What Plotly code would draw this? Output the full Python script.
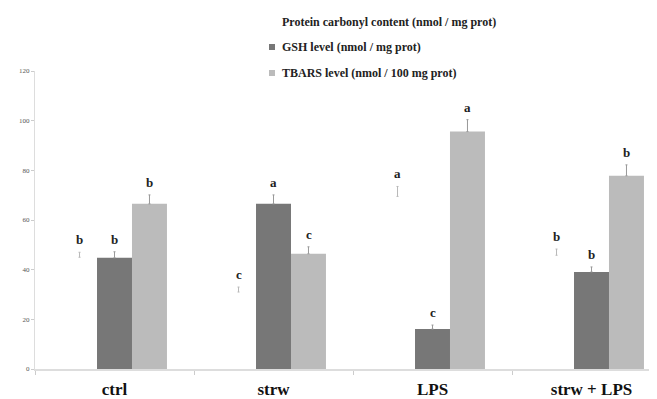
import plotly.graph_objects as go

categories = ["ctrl", "strw", "LPS", "strw + LPS"]
series_names = [
    "Protein carbonyl content (nmol / mg prot)",
    "GSH level (nmol / mg prot)",
    "TBARS level (nmol / 100 mg prot)",
]
protein = [45.0, 31.0, 69.5, 45.8]
protein_err = [2.0, 2.0, 4.0, 2.5]
gsh = [44.8, 66.5, 16.1, 39.1]
gsh_err = [2.4, 3.6, 1.6, 2.0]
tbars = [66.5, 46.4, 95.6, 77.8]
tbars_err = [3.6, 2.8, 4.8, 4.4]
protein_letters = ["b", "c", "a", "b"]
gsh_letters = ["b", "a", "c", "b"]
tbars_letters = ["b", "c", "a", "b"]
y_ticks = [0, 20, 40, 60, 80, 100, 120]

FONT = "Liberation Serif"
colors = ["#ffffff", "#777777", "#bbbbbb"]
err_colors = ["#b8b8b8", "#999999", "#999999"]

# page body has an 8px default margin; size the figure to fit the window
OFF = 8
W, H = 657 - OFF, 399 - OFF
L, R, T, B = 35 - OFF, 0, 71 - OFF, 30
PW, PH = W - L - R, H - T - B

fig = go.Figure()
values = [protein, gsh, tbars]
errs = [protein_err, gsh_err, tbars_err]
for i, (name, v, e) in enumerate(zip(series_names, values, errs)):
    fig.add_trace(go.Bar(
        name=name, x=categories, y=v,
        marker=dict(color=colors[i], line=dict(width=0)),
        error_y=dict(type="data", array=e, arrayminus=[0] * len(e), symmetric=False,
                     color=err_colors[i], thickness=1, width=1),
        showlegend=False,
    ))

# letters above error bars
offsets = [-35, 0, 35]
letters = [protein_letters, gsh_letters, tbars_letters]
for i in range(3):
    for j, c in enumerate(categories):
        fig.add_annotation(
            x=c, y=values[i][j] + errs[i][j], xref="x", yref="y",
            text=f"<b>{letters[i][j]}</b>", showarrow=False,
            xshift=offsets[i], yshift=3, yanchor="bottom",
            font=dict(family=FONT, size=13, color="#222"),
        )

# legend drawn as text + swatches (paper coordinates), window pixel positions
leg_y_px = [22, 47, 73]
text_x_px = 280
sx = 272
for i, name in enumerate(series_names):
    ypix = leg_y_px[i] - OFF
    yp = (H - B - ypix) / PH
    fig.add_annotation(
        x=(text_x_px - OFF - L) / PW, y=yp, xref="paper", yref="paper",
        text=f"<b>{name}</b>", showarrow=False, xanchor="left", yanchor="middle",
        font=dict(family=FONT, size=12, color="#222"),
    )
    fig.add_shape(
        type="rect", xref="paper", yref="paper",
        x0=(sx - OFF - 3 - L) / PW, x1=(sx - OFF + 3 - L) / PW,
        y0=(H - B - ypix - 3) / PH, y1=(H - B - ypix + 3) / PH,
        fillcolor=colors[i], line=dict(width=0),
    )

fig.update_layout(
    width=W, height=H,
    paper_bgcolor="white", plot_bgcolor="white",
    margin=dict(l=L, r=R, t=T, b=B),
    barmode="group", bargap=0.34, bargroupgap=0,
    showlegend=False,
    font=dict(family=FONT),
)
fig.update_xaxes(
    range=[-0.5, -0.5 + PW / 159.0], automargin=False,
    showline=True, linecolor="#dddddd", linewidth=2,
    ticks="outside", tickson="boundaries", ticklen=4, tickcolor="#cccccc",
    tickfont=dict(family=FONT, size=17, color="#111"),
    ticklabelstandoff=4,
    showgrid=False,
    tickvals=categories, ticktext=[f"<b>{c}</b>" for c in categories],
)
fig.update_yaxes(
    range=[0, 120], tickvals=y_ticks, automargin=False,
    showline=True, linecolor="#dddddd", linewidth=1,
    ticks="outside", ticklen=3, tickcolor="#cccccc",
    tickfont=dict(family=FONT, size=7, color="#555"),
    showgrid=False, zeroline=False,
)

fig.write_html("out.html")
